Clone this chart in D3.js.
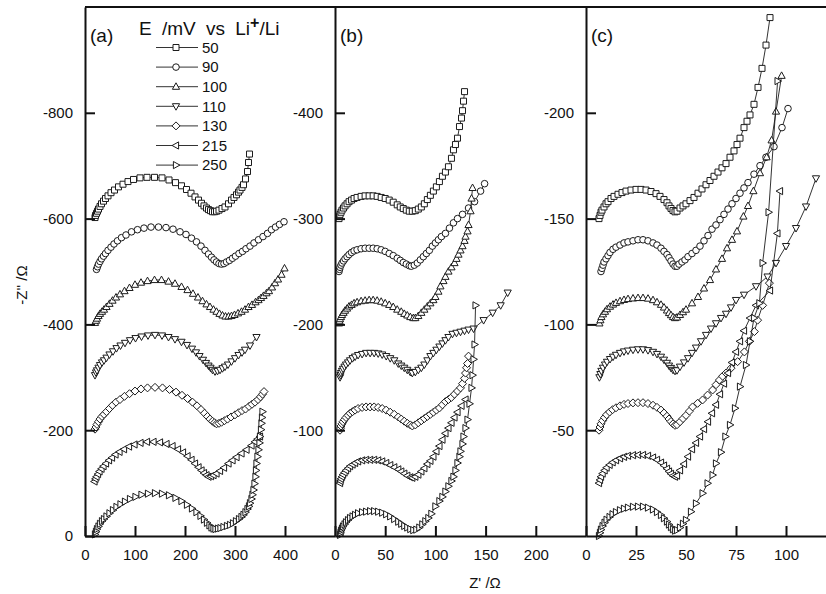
<!DOCTYPE html>
<html>
<head>
<meta charset="utf-8">
<script src="https://cdn.jsdelivr.net/npm/d3@7"></script>
<style>
  body { margin: 0; background: #fff; }
  svg { display: block; font-family: "Liberation Sans", Arial, sans-serif; }
  .axis path, .axis line { stroke: #111; stroke-width: 2; }
  .axis text { font-size: 15px; fill: #111; }
</style>
</head>
<body>
<div id="chart"></div>
<script>
// potentials (mV vs Li+/Li) and the marker used for each
const potentials = ["50", "90", "100", "110", "130", "215", "250"];
const markers = ["square", "circle", "triUp", "triDown", "diamond", "triLeft", "triRight"];

// vertical shift applied to each spectrum in each panel (ohm)
const offsetsA = [600, 500, 400, 300, 200, 100, 0];
const offsetsB = [300, 250, 200, 150, 100, 50, 0];
const offsetsC = [150, 125, 100, 75, 50, 25, 0];

// tick labels
const xTicksA = [0, 100, 200, 300, 400];
const yTicksA = [0, -200, -400, -600, -800];
const xTicksB = [0, 50, 100, 150, 200];
const yTicksB = [-100, -200, -300, -400];
const xTicksC = [0, 25, 50, 75, 100];
const yTicksC = [-50, -100, -150, -200];

// panel (a): [Z', -Z'' above its shift]
const a50 = [[20,2],[21,6],[23,10],[25,14],[27,18],[30,23],[33,28],[37,33],[41,38],[46,43],[52,49],[59,54],[67,60],[76,65],[86,70],[97,74],[110,77],[124,78],[139,78],[154,77],[168,73],[181,68],[193,62],[203,55],[212,48],[220,41],[227,35],[233,29],[238,24],[243,20],[247,17],[251,15],[255,13],[259,13],[263,14],[268,16],[274,19],[280,22],[287,28],[293,35],[298,40],[303,45],[307,50],[310,54],[314,59],[317,64],[321,75],[325,89],[327,106],[329,122]];
const a90 = [[23,4],[25,9],[27,14],[30,19],[33,24],[37,29],[41,34],[46,40],[52,46],[58,52],[65,58],[73,64],[82,69],[93,75],[105,79],[118,82],[132,84],[147,84],[162,83],[176,80],[190,75],[202,70],[213,63],[223,56],[232,48],[240,40],[247,33],[253,27],[258,22],[263,18],[268,15],[273,14],[278,15],[283,18],[289,21],[295,25],[301,29],[308,34],[315,38],[322,43],[330,48],[338,54],[347,60],[356,66],[365,72],[373,79],[381,84],[389,89],[398,94]];
const a100 = [[20,3],[22,7],[24,11],[27,16],[30,20],[34,24],[38,28],[43,33],[49,39],[55,45],[62,51],[70,57],[79,63],[89,69],[100,75],[112,79],[125,82],[139,84],[153,84],[167,81],[180,77],[193,71],[205,65],[216,58],[226,51],[235,44],[243,38],[250,33],[257,28],[263,24],[269,20],[275,17],[281,15],[287,15],[293,16],[299,18],[306,21],[313,24],[320,28],[327,33],[334,37],[341,42],[347,46],[352,50],[357,54],[363,59],[368,63],[374,70],[380,78],[386,85],[393,94],[399,106]];
const a110 = [[20,4],[22,9],[24,13],[27,18],[30,23],[34,28],[38,32],[43,37],[49,43],[56,49],[63,55],[71,60],[80,65],[90,70],[101,74],[113,77],[126,79],[140,80],[154,79],[167,76],[180,72],[193,67],[204,61],[214,54],[222,47],[229,40],[236,33],[242,27],[247,22],[251,18],[255,14],[260,11],[265,12],[270,14],[275,17],[280,20],[286,24],[293,30],[300,36],[307,42],[314,47],[320,52],[330,60],[343,76]];
const a130 = [[20,2],[22,6],[24,11],[27,16],[30,21],[34,26],[38,30],[43,35],[49,41],[55,47],[62,53],[70,58],[79,64],[89,69],[100,74],[112,78],[125,80],[140,81],[155,80],[169,77],[182,72],[194,66],[205,60],[215,53],[224,46],[232,39],[239,32],[245,26],[250,21],[255,17],[259,14],[263,12],[268,13],[273,15],[279,18],[285,21],[292,25],[300,29],[307,33],[314,37],[321,40],[328,45],[334,49],[340,53],[346,58],[351,63],[355,68],[358,73]];
const a215 = [[19,3],[21,8],[23,12],[26,17],[29,22],[33,27],[37,32],[42,37],[48,43],[54,48],[61,54],[69,59],[78,64],[88,69],[99,73],[111,76],[124,78],[137,78],[150,77],[163,74],[175,70],[186,64],[196,58],[205,51],[213,44],[220,37],[227,30],[233,24],[238,19],[243,15],[247,12],[252,13],[257,15],[263,18],[270,23],[278,29],[287,37],[295,43],[303,49],[313,56],[323,63],[333,71],[340,78],[345,83],[350,88]];
const a250 = [[20,3],[22,8],[24,13],[27,18],[30,23],[34,28],[38,32],[43,37],[49,43],[56,49],[63,55],[71,60],[80,65],[90,70],[101,74],[113,78],[126,80],[140,81],[154,80],[168,77],[181,72],[193,66],[204,59],[214,52],[223,45],[231,38],[238,31],[244,25],[249,20],[253,16],[257,14],[261,13],[266,14],[271,15],[277,17],[284,19],[290,21],[296,24],[302,28],[308,32],[313,36],[317,40],[321,45],[325,51],[328,56],[330,62],[333,70],[335,78],[337,87],[339,99],[341,112],[342,124],[343,137],[345,150],[347,163],[349,176],[350,188],[352,201],[353,213],[354,224],[355,235]];

// panel (b)
const b50 = [[4,0],[4.5,2],[5,4],[6,6],[7,8],[8.5,10],[10,12],[12,14],[14,16],[16.5,17.5],[19,19],[22,20],[26,21],[30,21.5],[34,21.5],[38,21.5],[42,21],[46,20],[50,19],[54,17.5],[58,15.5],[62,13],[65,11],[68,9.5],[71,8],[74,7],[77,7],[80,7.5],[83,9],[86,11],[89,14],[92,18],[95,22],[98,26],[101,30],[104,35],[107,40],[110,44],[113,49],[116,57],[118,65],[120,70],[122,76],[124,87],[126,95],[127,102],[128,111],[129,120]];
const b90 = [[4,0],[4.5,2],[5,4],[6,6],[7,8],[8.5,10],[10,12],[12,14],[14,16],[16.5,18],[19,19.5],[22,20.5],[26,21.5],[30,22],[34,22],[38,22],[42,21.5],[46,20.5],[50,19],[54,17],[58,15],[62,12.5],[65,10.5],[68,8.5],[71,7],[74,5.5],[76,5],[79,6],[82,8],[85,11],[88,14],[91,17],[94,20],[97,24],[100,27],[103,30],[106,33],[110,36],[114,41],[118,46],[122,50],[127,54],[133,60],[139,66],[145,76],[149,83]];
const b100 = [[4,1],[4.5,3],[5,5],[6,7],[7,9],[8.5,11],[10,13],[12,15],[14,17],[16.5,18.5],[19,20],[22,21],[26,22],[30,22.5],[34,23],[38,23],[42,22.5],[46,21.5],[50,20],[54,18.5],[58,16.5],[62,14],[66,12],[69,10],[72,8.5],[75,7],[78,6],[80,6],[83,8],[86,11],[89,14],[92,17],[95,20],[98,23],[100,26],[103,31],[105,36],[108,41],[110,45],[113,50],[116,54],[119,58],[121,62],[123,66],[125,70],[127,74],[129,79],[130,83],[132,88],[133,94],[135,107],[136,119],[137,129]];
const b110 = [[5,0],[5.5,2],[6,4],[7,6],[8,8],[9.5,10],[11,12],[13,14],[15,16],[17.5,18],[20,19.5],[23,21],[27,22],[31,23],[35,23],[39,23],[43,22.5],[47,21.5],[51,20],[55,18],[59,16],[63,13],[66,11],[69,9],[72,7],[75,5],[77,4],[80,5],[83,7],[86,9],[89,12],[92,16],[95,20],[98,23],[101,26],[104,29],[107,32],[110,35],[113,38],[117,41],[121,42],[125,43],[129,44],[133,45],[138,46],[148,54],[157,61],[165,68],[172,80]];
const b130 = [[5,0],[5.5,2],[6,4],[7,6],[8,8],[9.5,10],[11,12],[13,14],[15,16],[17.5,17.5],[20,19],[23,20.5],[27,21.5],[31,22],[35,22],[39,22],[43,21.5],[47,20.5],[51,19],[55,17],[59,15],[63,12.5],[66,10.5],[69,8.5],[72,6.5],[75,5],[77,4],[80,5],[83,7],[86,9],[89,11],[92,13],[95,15],[98,17],[101,19],[104,21],[107,24],[110,27],[113,29],[116,31],[119,34],[122,37],[125,40],[127,44],[129,49],[130,54],[131,59],[132,63],[133,70]];
const b215 = [[5,0],[5.5,2],[6,4],[7,6],[8,8],[9.5,10],[11,12],[13,14],[15,16],[17.5,17.5],[20,19],[23,20.5],[27,21.5],[31,22],[35,22],[39,22],[43,21.5],[47,20.5],[51,19],[55,17],[59,15],[63,13],[66,11],[69,9],[72,7],[75,5.5],[77,5],[80,6],[83,8],[86,11],[89,14],[92,18],[95,21],[98,25],[101,30],[104,35],[107,41],[110,47],[113,52],[116,57],[119,62],[122,67],[126,73],[130,79]];
const b250 = [[5,1],[5.5,3],[6,5],[7,7],[8,9],[9.5,11],[11,13],[13,15],[15,17],[17.5,18.5],[20,20],[23,21.5],[27,22.5],[31,23],[35,23.5],[39,23.5],[43,23],[47,22],[51,20.5],[55,18.5],[59,16],[63,13.5],[66,11.5],[69,9.5],[72,8],[75,6.5],[78,5.5],[81,6],[84,8],[87,11],[90,14],[93,17],[96,21],[100,28],[104,33],[107,37],[110,42],[113,47],[116,52],[118,56],[120,62],[122,69],[124,75],[125,80],[127,87],[128,94],[130,102],[132,110],[134,125],[136,140],[137,152],[138,167],[139,181],[140,218]];

// panel (c)
const c50 = [[6.5,0],[7,1.5],[7.5,3],[8,4],[9,5.5],[10,7],[11,8],[12.5,9.5],[14,10.5],[16,11.5],[18,12.3],[20,13],[22.5,13.5],[25,13.8],[27.5,13.8],[30,13.5],[32.5,12.8],[35,11.8],[37,10.5],[39,9],[40.5,7.5],[41.5,6],[42.5,4.8],[43.5,3.8],[44.5,3.2],[45.5,3.5],[47,5],[48.5,6],[50,7],[52,8.5],[54,10],[56,12],[58,14],[60,16],[62,18],[64,20],[66,22],[68,24],[70,26],[72,29],[74,32],[75.5,35],[77,38],[79,43],[80.5,46],[82,49],[84,54],[86,62],[88,71],[90,82],[92,95]];
const c90 = [[7.5,0],[8,1.5],[8.5,3],[9,4.5],[10,6],[11,7.5],[12,9],[13.5,10.5],[15,11.5],[17,12.5],[19,13.5],[21,14],[23.5,14.5],[26,15],[28.5,15],[31,14.5],[33.5,13.5],[35.5,12.5],[37.5,11],[39,9.5],[40.5,8],[41.5,6.5],[42.5,5],[43.5,3.5],[44.5,2.5],[45.5,2.5],[46.5,3.5],[48,4.5],[49.5,5.5],[51,7],[53,8.5],[55,10],[57,12],[59,14.5],[61,17],[63,20],[65,22],[67,24.5],[69,27],[71,29.5],[73,32],[75,34.5],[77,37],[79,39.5],[81,42],[84,46],[87,50],[90,54],[94,59],[98,68],[101,77]];
const c100 = [[6.7,0.5],[7.2,2],[7.7,3.5],[8.5,4.8],[9.5,6],[10.5,7.2],[12,8.4],[13.5,9.4],[15,10.2],[17,11],[19,11.6],[21,12],[23.5,12.3],[26,12.5],[28.5,12.5],[31,12.2],[33.5,11.5],[35.5,10.5],[37.5,9.3],[39,8],[40.5,6.6],[41.5,5.4],[42.5,4.4],[43.5,3.5],[44.5,3],[45.5,3.3],[47,4.5],[48.5,5.8],[50,7],[53,10],[56,13],[59,17],[62,21],[65,26],[68,31],[70.5,36],[73,40],[75.5,44],[78.7,51],[81,56],[83.7,63],[87,71.5],[90.3,79],[92.8,87],[95,100.6],[97.8,117.5]];
const c110 = [[6.7,0],[7.2,1.5],[7.7,3],[8.5,4.5],[9.5,6],[10.5,7.3],[12,8.6],[13.5,9.7],[15,10.6],[17,11.5],[19,12.2],[21,12.6],[23.5,13],[26,13.2],[28.5,13.2],[31,12.8],[33.5,12],[35.5,11],[37.5,9.7],[39,8.3],[40.5,6.8],[41.5,5.5],[42.5,4.4],[43.5,3.5],[44.5,3],[45.5,3.3],[47,5],[49,7],[51,9],[53,11.5],[55,14],[57.5,17],[60,20],[62.5,23],[65,25.5],[67.5,28],[70,30],[72.5,33],[75,36.5],[79,39],[85,43],[90.8,47.6],[95,54],[100,62],[105,70.5],[110,80.7],[115,94]];
const c130 = [[6.5,0],[7,1.5],[7.5,3],[8.3,4.5],[9.3,6],[10.3,7.3],[11.8,8.6],[13.3,9.7],[15,10.6],[17,11.5],[19,12.2],[21,12.6],[23.5,12.9],[26,13],[28.5,13],[31,12.6],[33.5,11.8],[35.5,10.8],[37.5,9.5],[39,8.1],[40.5,6.6],[41.5,5.3],[42.5,4.1],[43.5,3],[44.5,2.3],[45.5,2.6],[47,4],[48.5,5.5],[50,7],[51.7,9],[53.3,11],[55.8,12.7],[58.3,14.3],[60.8,16.6],[63.3,19],[65,21.5],[66.7,23.7],[68.3,25.5],[70,27],[72.5,29.3],[75.8,32.4],[79.2,37],[81.7,42],[84.2,46.6],[85.8,52],[88.3,59],[91.7,69.5]];
const c215 = [[6.5,0],[7,1.5],[7.5,3],[8.3,4.5],[9.3,6],[10.3,7.3],[11.8,8.6],[13.3,9.8],[15,10.8],[17,11.7],[19,12.4],[21,12.9],[23.5,13.2],[26,13.3],[28.5,13.3],[31,12.9],[33.5,12.1],[35.5,11],[37.5,9.7],[39,8.3],[40.5,6.8],[41.5,5.5],[42.5,4.4],[43.5,3.5],[44.5,3],[45.5,3.5],[47,6],[49,9],[51,12.5],[53,16],[55,19],[57,22],[59,25.5],[61,29],[63,33],[65,37],[67,42],[69,47],[71,52],[73,57],[75,62],[77,67],[79,72],[82,78],[85,84],[92,91],[95.7,118],[97,138]];
const c250 = [[6.5,0],[7,1.5],[7.5,3],[8.3,4.7],[9.3,6.3],[10.3,7.7],[11.8,9],[13.3,10.3],[15,11.3],[17,12.2],[19,12.9],[21,13.4],[23.5,13.8],[26,13.9],[28.5,13.9],[31,13.4],[33.5,12.5],[35.5,11.3],[37.5,9.9],[39,8.4],[40.5,6.8],[41.5,5.4],[42.5,4.2],[43.5,3.2],[44.5,2.5],[45.5,2.8],[47,4],[48.5,5.8],[50,7.6],[52.5,11.5],[55,15.4],[58.3,20.2],[60.8,24.9],[63.3,28.8],[65,34.3],[67.5,39.6],[69.7,47],[72,52.5],[74.5,60.4],[77,70.6],[80,80.8],[82,92],[84,103],[86.7,110],[88.3,129],[91.3,153],[95.8,215]];

const seriesA = [a50, a90, a100, a110, a130, a215, a250];
const seriesB = [b50, b90, b100, b110, b130, b215, b250];
const seriesC = [c50, c90, c100, c110, c130, c215, c250];

const width = 826, height = 594;
const plotTop = 7, plotBottom = 536;
const ink = "#1c1c1c";

const svg = d3.select("#chart").append("svg")
    .attr("width", width)
    .attr("height", height);

function markerPath(kind) {
    switch (kind) {
        case "square": return "M-3,-3H3V3H-3Z";
        case "circle": return "M3.3,0A3.3,3.3,0,1,1,-3.3,0A3.3,3.3,0,1,1,3.3,0Z";
        case "triUp": return "M0,-3.9L3.6,2.6L-3.6,2.6Z";
        case "triDown": return "M0,3.9L3.6,-2.6L-3.6,-2.6Z";
        case "diamond": return "M0,-4L4,0L0,4L-4,0Z";
        case "triLeft": return "M-3.9,0L2.6,-3.6L2.6,3.6Z";
        case "triRight": return "M3.9,0L-2.6,-3.6L-2.6,3.6Z";
    }
}

const panels = [
    { name: "(a)", left: 85, right: 335, xMax: 500, yMax: 1000, xTicks: xTicksA, yTicks: yTicksA, offsets: offsetsA, data: seriesA },
    { name: "(b)", left: 335, right: 586, xMax: 250, yMax: 500, xTicks: xTicksB, yTicks: yTicksB, offsets: offsetsB, data: seriesB },
    { name: "(c)", left: 586, right: 826, xMax: 120, yMax: 250, xTicks: xTicksC, yTicks: yTicksC, offsets: offsetsC, data: seriesC }
];

panels.forEach(p => {
    const x = d3.scaleLinear().domain([0, p.xMax]).range([p.left, p.right]);
    const y = d3.scaleLinear().domain([0, -p.yMax]).range([plotBottom, plotTop]);

    const g = svg.append("g");

    p.data.forEach((pts, i) => {
        const off = p.offsets[i];
        const line = d3.line()
            .x(d => x(d[0]))
            .y(d => y(-(d[1] + off)));
        g.append("path")
            .datum(pts)
            .attr("d", line)
            .attr("fill", "none")
            .attr("stroke", ink)
            .attr("stroke-width", 0.9);
        g.selectAll(null)
            .data(pts)
            .enter().append("path")
            .attr("d", markerPath(markers[i]))
            .attr("transform", d => `translate(${x(d[0])},${y(-(d[1] + off))})`)
            .attr("fill", "#fff")
            .attr("stroke", ink)
            .attr("stroke-width", 1);
    });

    svg.append("g")
        .attr("class", "axis")
        .attr("transform", `translate(0,${plotBottom})`)
        .call(d3.axisBottom(x).tickValues(p.xTicks).tickSizeInner(-10).tickSizeOuter(0).tickPadding(13));

    svg.append("g")
        .attr("class", "axis")
        .attr("transform", `translate(${p.left},0)`)
        .call(d3.axisLeft(y).tickValues(p.yTicks).tickFormat(d => String(d)).tickSizeInner(-10).tickSizeOuter(0).tickPadding(12));

    svg.append("text")
        .attr("x", p.left + 5)
        .attr("y", 42)
        .attr("font-size", 19)
        .attr("fill", "#111")
        .text(p.name);
});

// top frame
svg.append("line")
    .attr("x1", 85).attr("x2", width)
    .attr("y1", plotTop).attr("y2", plotTop)
    .attr("stroke", "#111").attr("stroke-width", 2);

// axis titles
svg.append("text")
    .attr("x", 485).attr("y", 588)
    .attr("text-anchor", "middle")
    .attr("font-size", 15)
    .attr("fill", "#111")
    .text("Z' /\u03A9");

svg.append("text")
    .attr("transform", "translate(27,285) rotate(-90)")
    .attr("text-anchor", "middle")
    .attr("font-size", 15)
    .attr("fill", "#111")
    .text("-Z'' /\u03A9");

// legend
const legendTitle = svg.append("text")
    .attr("x", 139)
    .attr("y", 35)
    .attr("font-size", 19)
    .attr("word-spacing", 5)
    .attr("fill", "#111");
legendTitle.append("tspan").text("E /mV vs Li");
legendTitle.append("tspan").attr("dy", -7).attr("font-size", 16).attr("font-weight", "bold").text("+");
legendTitle.append("tspan").attr("dy", 7).text("/Li");

const legend = svg.append("g");
potentials.forEach((pot, i) => {
    const ly = 47.5 + i * 19.6;
    legend.append("line")
        .attr("x1", 156).attr("x2", 198)
        .attr("y1", ly).attr("y2", ly)
        .attr("stroke", ink).attr("stroke-width", 0.9);
    legend.append("path")
        .attr("d", markerPath(markers[i]))
        .attr("transform", `translate(176,${ly})`)
        .attr("fill", "#fff")
        .attr("stroke", ink)
        .attr("stroke-width", 1);
    legend.append("text")
        .attr("x", 202).attr("y", ly)
        .attr("dy", "0.35em")
        .attr("font-size", 15)
        .attr("fill", "#111")
        .text(pot);
});
</script>
</body>
</html>
